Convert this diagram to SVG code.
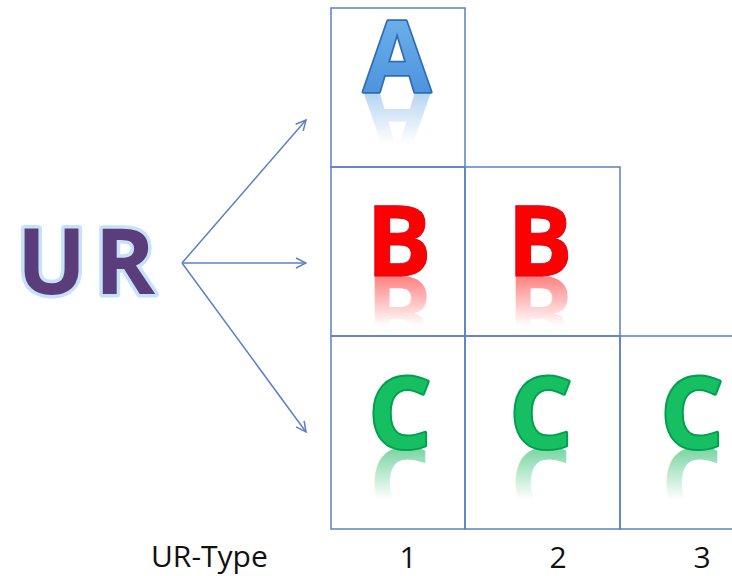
<svg xmlns="http://www.w3.org/2000/svg" width="732" height="576" viewBox="0 0 732 576">
  <style>
    .cell { fill: none; stroke: #5a80c6; stroke-width: 1.5; }
    .conn { fill: none; stroke: #5a80c6; stroke-width: 1.5; }
    .big { font-family: "Open Sans", "Liberation Sans", sans-serif; font-weight: bold; font-size: 98px; text-anchor: middle; }
    .lab { font-family: "Open Sans", "Liberation Sans", sans-serif; font-size: 30px; fill: #111; }
    .num { text-anchor: middle; }
    .a-body { fill: url(#gA); stroke: #2f6cb6; stroke-width: 3.5; stroke-linejoin: round; paint-order: stroke; }
    .b-body { fill: #ff0000; stroke: #e0001c; stroke-width: 1; }
    .c-body { fill: #16c062; stroke: #00a04e; stroke-width: 4; stroke-linejoin: round; paint-order: stroke; }
    .ur { font-family: "Open Sans", "Liberation Sans", sans-serif; font-weight: bold; font-size: 92px; text-anchor: middle; letter-spacing: 8px; fill: #5c3d7b; stroke: #c6e2f8; stroke-width: 7; stroke-linejoin: round; paint-order: stroke; }
  </style>
  <defs>
    <marker id="open" viewBox="0 0 12 12" refX="11" refY="6" markerWidth="12" markerHeight="12" markerUnits="userSpaceOnUse" orient="auto">
      <path d="M1,1 L11,6 L1,11" fill="none" stroke="#5a80c6" stroke-width="1.5"/>
    </marker>
    <linearGradient id="gA" x1="0" y1="0" x2="0" y2="1">
      <stop offset="0" stop-color="#78bcf2"/>
      <stop offset="1" stop-color="#4189d6"/>
    </linearGradient>
    <!-- fading reflections (local coordinates of the mirrored text) -->
    <linearGradient id="rA" gradientUnits="userSpaceOnUse" x1="0" y1="92" x2="0" y2="40">
      <stop offset="0" stop-color="#5a9ee0" stop-opacity="0.45"/>
      <stop offset="1" stop-color="#5a9ee0" stop-opacity="0"/>
    </linearGradient>
    <linearGradient id="rB" gradientUnits="userSpaceOnUse" x1="0" y1="276" x2="0" y2="226">
      <stop offset="0" stop-color="#ff2a2a" stop-opacity="0.6"/>
      <stop offset="1" stop-color="#ff2a2a" stop-opacity="0"/>
    </linearGradient>
    <linearGradient id="rC" gradientUnits="userSpaceOnUse" x1="0" y1="448" x2="0" y2="396">
      <stop offset="0" stop-color="#20b864" stop-opacity="0.6"/>
      <stop offset="1" stop-color="#20b864" stop-opacity="0"/>
    </linearGradient>
  </defs>

  <!-- source label -->
  <g id="ur">
    <text class="ur" x="90" y="294">UR</text>
  </g>

  <!-- connectors -->
  <g id="connectors">
    <line class="conn" x1="182" y1="263" x2="306" y2="120" marker-end="url(#open)"/>
    <line class="conn" x1="182" y1="263" x2="306" y2="263" marker-end="url(#open)"/>
    <line class="conn" x1="182" y1="263" x2="306" y2="432" marker-end="url(#open)"/>
  </g>

  <!-- row A -->
  <g id="cell-a1">
    <rect class="cell" x="331" y="8" width="134" height="159"/>
    <text class="big" x="397" y="92" fill="url(#rA)" transform="translate(0,184) scale(1,-1)">A</text>
    <text class="big a-body" x="397" y="92">A</text>
  </g>

  <!-- row B -->
  <g id="cell-b1">
    <rect class="cell" x="331" y="167" width="134" height="169"/>
    <text class="big" x="399" y="276" fill="url(#rB)" transform="translate(0,552) scale(1,-1)">B</text>
    <text class="big b-body" x="399" y="276">B</text>
  </g>
  <g id="cell-b2">
    <rect class="cell" x="465" y="167" width="155" height="169"/>
    <text class="big" x="540" y="276" fill="url(#rB)" transform="translate(0,552) scale(1,-1)">B</text>
    <text class="big b-body" x="540" y="276">B</text>
  </g>

  <!-- row C -->
  <g id="cell-c1">
    <rect class="cell" x="331" y="336" width="134" height="193"/>
    <text class="big" x="400" y="448" fill="url(#rC)" transform="translate(0,896) scale(1,-1)">C</text>
    <text class="big c-body" x="400" y="448">C</text>
  </g>
  <g id="cell-c2">
    <rect class="cell" x="465" y="336" width="155" height="193"/>
    <text class="big" x="541" y="448" fill="url(#rC)" transform="translate(0,896) scale(1,-1)">C</text>
    <text class="big c-body" x="541" y="448">C</text>
  </g>
  <g id="cell-c3">
    <rect class="cell" x="620" y="336" width="130" height="193"/>
    <text class="big" x="692" y="448" fill="url(#rC)" transform="translate(0,896) scale(1,-1)">C</text>
    <text class="big c-body" x="692" y="448">C</text>
  </g>

  <!-- axis labels -->
  <g id="axis">
    <text class="lab" x="151" y="567">UR-Type</text>
    <text class="lab num" x="408" y="568">1</text>
    <text class="lab num" x="558" y="568">2</text>
    <text class="lab num" x="702" y="568">3</text>
  </g>
</svg>
